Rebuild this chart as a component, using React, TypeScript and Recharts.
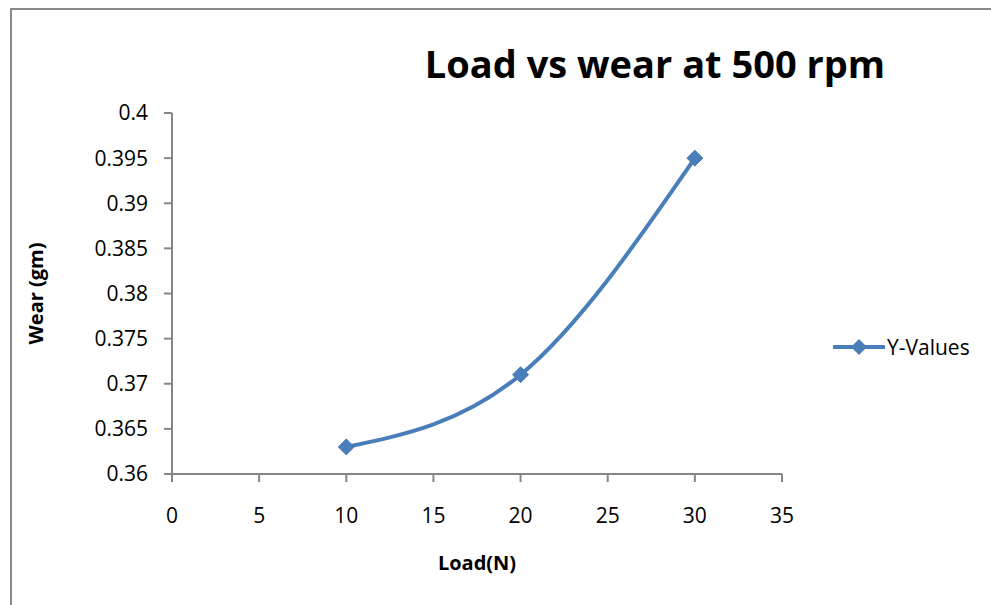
import React from 'react';
import { LineChart, Line, XAxis, YAxis, Legend, Customized } from 'recharts';

const loads = [10, 20, 30];
const wear = [0.363, 0.371, 0.395];
const xTicks = [0, 5, 10, 15, 20, 25, 30, 35];
const yTicks = [0.36, 0.365, 0.37, 0.375, 0.38, 0.385, 0.39, 0.395, 0.4];
const seriesName = 'Y-Values';
const titleText = 'Load vs wear at 500 rpm';
const xLabel = 'Load(N)';
const yLabel = 'Wear (gm)';

const data = loads.map((x, i) => ({ x, y: wear[i] }));

const BLUE = '#4A7EBB';
const AXIS = '#868686';
const FONT = '"Open Sans", sans-serif';

const Diamond = (props: any) => {
  const { cx, cy } = props;
  if (cx == null || cy == null) return null;
  const r = 8;
  return (
    <path
      d={`M${cx},${cy - r}L${cx + r},${cy}L${cx},${cy + r}L${cx - r},${cy}Z`}
      fill={BLUE}
      stroke={BLUE}
      strokeWidth={1}
    />
  );
};

const LegendContent = () => (
  <div style={{ display: 'flex', alignItems: 'center', fontFamily: FONT, fontSize: 21, color: '#000' }}>
    <svg width={52} height={20} style={{ display: 'block' }}>
      <line x1={1} y1={10} x2={51} y2={10} stroke={BLUE} strokeWidth={4} strokeLinecap="round" />
      <path d="M26,2L34,10L26,18L18,10Z" fill={BLUE} />
    </svg>
    <span style={{ marginLeft: 2, lineHeight: '20px' }}>{seriesName}</span>
  </div>
);

const Title = () => (
  <text x={655} y={78} textAnchor="middle" fontFamily={FONT} fontWeight={700} fontSize={38} fill="#000">
    {titleText}
  </text>
);

const XLabel = (props: any) => {
  const vb = props.viewBox || {};
  const cx = vb.x + vb.width / 2;
  return (
    <text x={cx} y={570} textAnchor="middle" fontFamily={FONT} fontWeight={700} fontSize={20} fill="#000">
      {xLabel}
    </text>
  );
};

const YLabel = (props: any) => {
  const vb = props.viewBox || {};
  const cy = vb.y + vb.height / 2;
  return (
    <text
      x={43}
      y={cy}
      transform={`rotate(-90, 43, ${cy})`}
      textAnchor="middle"
      fontFamily={FONT}
      fontWeight={700}
      fontSize={20}
      fill="#000"
    >
      {yLabel}
    </text>
  );
};

const fmt = (v: number) => String(Number(v.toFixed(3)));

export default function App() {
  return (
    <div style={{ position: 'absolute', left: 0, top: 0, width: 991, height: 605, background: '#fff', overflow: 'hidden' }}>
      <LineChart
        width={991}
        height={605}
        data={data}
        margin={{ top: 113, right: 209, left: 0, bottom: 0 }}
      >
        <XAxis
          dataKey="x"
          type="number"
          domain={[0, 35]}
          ticks={xTicks}
          height={131}
          stroke={AXIS}
          strokeWidth={2}
          tickSize={8}
          tickMargin={26}
          tick={{ fill: '#000', fontSize: 21, fontFamily: FONT }}
          tickLine={{ stroke: AXIS, strokeWidth: 2 }}
          label={<XLabel />}
          allowDataOverflow
        />
        <YAxis
          type="number"
          domain={[0.36, 0.4]}
          ticks={yTicks}
          width={172}
          stroke={AXIS}
          strokeWidth={2}
          tickSize={8}
          tickMargin={16}
          tickFormatter={fmt}
          tick={{ fill: '#000', fontSize: 21, fontFamily: FONT }}
          tickLine={{ stroke: AXIS, strokeWidth: 2 }}
          label={<YLabel />}
          allowDataOverflow
        />
        <Legend
          layout="horizontal"
          align="center"
          verticalAlign="middle"
          content={<LegendContent />}
          wrapperStyle={{ position: 'absolute', left: 833, top: 337, width: 160 }}
        />
        <Line
          dataKey="y"
          name={seriesName}
          type="natural"
          stroke={BLUE}
          strokeWidth={4}
          dot={<Diamond />}
          activeDot={false}
          isAnimationActive={false}
        />
        <Customized component={<Title />} />
      </LineChart>
      <div
        style={{
          position: 'absolute',
          left: 10,
          top: 8,
          width: 1000,
          height: 700,
          border: '2px solid #898989',
          boxSizing: 'border-box',
          pointerEvents: 'none',
        }}
      />
    </div>
  );
}
